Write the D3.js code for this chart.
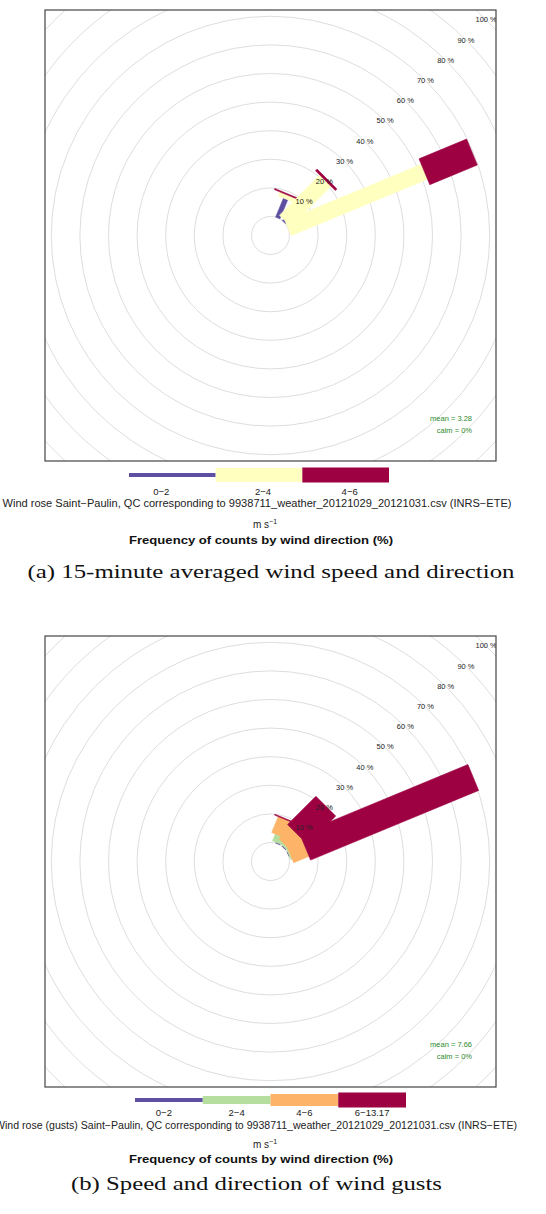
<!DOCTYPE html>
<html><head><meta charset="utf-8">
<script src="https://cdn.jsdelivr.net/npm/d3@7"></script>
<style>body{margin:0;background:#fff}svg{display:block}</style>
</head><body>
<svg id="chart" width="546" height="1214"></svg>
<script>
// ---------- DATA ----------
const directions = d3.range(16).map(i => i * 22.5); // degrees from north
const radialTicks = [0, 10, 20, 30, 40, 50, 60, 70, 80, 90, 100];
const tickLabels = ["10 %", "20 %", "30 %", "40 %", "50 %", "60 %", "70 %", "80 %", "90 %", "100 %"];

// (a) 15-minute averaged wind: frequency (%) per direction for each speed bin
const binsA = ["0\u22122", "2\u22124", "4\u22126"];
const a_0_2 = [0, 7.2, 0.6, 0, 0, 0, 0, 0, 0, 0, 0, 0, 0, 0, 0, 0];
const a_2_4 = [0, 1.5, 19.9, 51.6, 0, 0, 0, 0, 0, 0, 0, 0, 0, 0, 0, 0];
const a_4_6 = [0, 0.4, 0.8, 18.0, 0, 0, 0, 0, 0, 0, 0, 0, 0, 0, 0, 0];
const meanA = "mean = 3.28";
const calmA = "calm = 0%";

// (b) gusts
const binsB = ["0\u22122", "2\u22124", "4\u22126", "6\u221213.17"];
const b_0_2 = [0, 0.3, 0.3, 0.2, 0, 0, 0, 0, 0, 0, 0, 0, 0, 0, 0, 0];
const b_2_4 = [0, 2.6, 0.8, 0.5, 0, 0, 0, 0, 0, 0, 0, 0, 0, 0, 0, 0];
const b_4_6 = [0, 6.0, 5.6, 5.8, 0, 0, 0, 0, 0, 0, 0, 0, 0, 0, 0, 0];
const b_6_13 = [0, 0.3, 14.0, 63.6, 0, 0, 0, 0, 0, 0, 0, 0, 0, 0, 0, 0];
const meanB = "mean = 7.66";
const calmB = "calm = 0%";

const subtitleA = "Wind rose Saint\u2212Paulin, QC corresponding to 9938711_weather_20121029_20121031.csv (INRS\u2212ETE)";
const subtitleB = "Wind rose (gusts) Saint\u2212Paulin, QC corresponding to 9938711_weather_20121029_20121031.csv (INRS\u2212ETE)";
const captionA = "(a) 15-minute averaged wind speed and direction";
const captionB = "(b) Speed and direction of wind gusts";
const axisTitle = "Frequency of counts by wind direction (%)";

// ---------- STYLE ----------
const colorsA = ["#5E4FA2", "#FFFFBF", "#9E0142"];
const colorsB = ["#5E4FA2", "#B5DE9F", "#FDB468", "#9E0142"];
const halfWA = [2.3, 8, 14];
const halfWB = [2.3, 6, 10, 14];
const legHA = [4, 14, 15];
const legHB = [4, 8, 12, 15];

const svg = d3.select("#chart");
const sans = "'Liberation Sans', Arial, sans-serif";
const serif = "'Liberation Serif', 'DejaVu Serif', serif";

function drawPanel(cfg) {
  const g = svg.append("g");
  const box = cfg.box;
  const cx = box.x + box.w / 2, cy = box.y + box.h / 2;
  const r = d3.scaleLinear().domain([0, 100]).range([19, 305]);
  const clipId = "clip" + cfg.id;
  g.append("clipPath").attr("id", clipId).append("rect")
    .attr("x", box.x).attr("y", box.y).attr("width", box.w).attr("height", box.h);
  const inner = g.append("g").attr("clip-path", `url(#${clipId})`);

  inner.selectAll("circle.grid").data(radialTicks).join("circle")
    .attr("cx", cx).attr("cy", cy).attr("r", d => r(d))
    .attr("fill", "none").attr("stroke", "#dedede").attr("stroke-width", 1);

  // stacked paddles
  const series = cfg.series;
  directions.forEach((dir, i) => {
    let cum = 0;
    const th = dir * Math.PI / 180;
    const s = Math.sin(th), c = Math.cos(th);
    series.forEach((vals, k) => {
      const v = vals[i];
      if (v <= 0) return;
      const r1 = r(cum), r2 = r(cum + v);
      cum += v;
      const w = cfg.halfW[k];
      const pts = [
        [cx + r1 * s - w * c, cy - r1 * c - w * s],
        [cx + r2 * s - w * c, cy - r2 * c - w * s],
        [cx + r2 * s + w * c, cy - r2 * c + w * s],
        [cx + r1 * s + w * c, cy - r1 * c + w * s]
      ];
      inner.append("path").attr("d", d3.line()(pts) + "Z")
        .attr("fill", cfg.colors[k])
        .attr("stroke", cfg.colors[k]).attr("stroke-width", 0.6);
    });
  });

  // radial labels at 45 degrees
  const a45 = Math.PI / 4;
  inner.selectAll("text.tick").data(radialTicks.slice(1)).join("text")
    .attr("x", d => cx + r(d) * Math.sin(a45))
    .attr("y", d => cy - r(d) * Math.cos(a45) + 2.5)
    .attr("text-anchor", "middle")
    .attr("font-family", sans).attr("font-size", 7.5).attr("fill", "#222")
    .text((d, i) => tickLabels[i]);

  // mean / calm
  g.append("text").attr("x", box.x + box.w - 24).attr("y", box.y + box.h - 40)
    .attr("text-anchor", "end").attr("font-family", sans).attr("font-size", 7.5)
    .attr("fill", "#2e8b2e").text(cfg.mean);
  g.append("text").attr("x", box.x + box.w - 24).attr("y", box.y + box.h - 28)
    .attr("text-anchor", "end").attr("font-family", sans).attr("font-size", 7.5)
    .attr("fill", "#2e8b2e").text(cfg.calm);

  g.append("rect").attr("x", box.x).attr("y", box.y).attr("width", box.w).attr("height", box.h)
    .attr("fill", "none").attr("stroke", "#444").attr("stroke-width", 1.2);

  // legend
  const L = cfg.legend;
  const lx = d3.scaleBand().domain(cfg.bins).range([L.x0, L.x1]);
  g.selectAll("rect.leg").data(cfg.bins).join("rect")
    .attr("x", d => lx(d)).attr("width", lx.bandwidth())
    .attr("y", (d, k) => L.yc - cfg.legH[k] / 2).attr("height", (d, k) => cfg.legH[k])
    .attr("fill", (d, k) => cfg.colors[k]);
  g.selectAll("text.leg").data(cfg.bins).join("text")
    .attr("x", (d, k) => lx(d) + lx.bandwidth() / 2 + L.dx[k]).attr("y", L.labelY)
    .attr("text-anchor", "middle").attr("font-family", sans).attr("font-size", 9.5)
    .attr("fill", "#222").text(d => d);

  g.append("text").attr("x", cfg.sub.x).attr("y", cfg.sub.y).attr("text-anchor", "middle")
    .attr("font-family", sans).attr("font-size", 10).attr("fill", "#222")
    .attr("textLength", cfg.sub.len).attr("lengthAdjust", "spacingAndGlyphs").text(cfg.subtitle);
  const u = g.append("text").attr("x", 265).attr("y", cfg.unitY).attr("text-anchor", "middle")
    .attr("font-family", sans).attr("font-size", 10).attr("fill", "#222");
  u.append("tspan").text("m s");
  u.append("tspan").attr("dy", -4).attr("font-size", 7).text("\u22121");
  g.append("text").attr("x", 261).attr("y", cfg.titleY).attr("text-anchor", "middle")
    .attr("font-family", sans).attr("font-size", 11.5).attr("font-weight", "bold").attr("fill", "#111")
    .attr("textLength", 264).attr("lengthAdjust", "spacingAndGlyphs").text(axisTitle);
  g.append("text").attr("x", cfg.cap.x).attr("y", cfg.cap.y).attr("text-anchor", "middle")
    .attr("font-family", serif).attr("font-size", 18).attr("fill", "#111")
    .attr("textLength", cfg.cap.len).attr("lengthAdjust", "spacingAndGlyphs").text(cfg.caption);
}

drawPanel({
  id: "A", box: {x: 45, y: 10, w: 451, h: 451},
  series: [a_0_2, a_2_4, a_4_6], bins: binsA, colors: colorsA, halfW: halfWA, legH: legHA,
  mean: meanA, calm: calmA,
  legend: {x0: 129, x1: 389, yc: 475, labelY: 495, dx: [-11, 4, 4]},
  subtitle: subtitleA, sub: {x: 257, y: 507, len: 509},
  unitY: 528, titleY: 544, caption: captionA, cap: {x: 271, y: 578, len: 487}
});
drawPanel({
  id: "B", box: {x: 45, y: 636, w: 451, h: 451},
  series: [b_0_2, b_2_4, b_4_6, b_6_13], bins: binsB, colors: colorsB, halfW: halfWB, legH: legHB,
  mean: meanB, calm: calmB,
  legend: {x0: 135, x1: 406, yc: 1100, labelY: 1116, dx: [-5, 0, 0, 0]},
  subtitle: subtitleB, sub: {x: 256, y: 1129, len: 522},
  unitY: 1148, titleY: 1163, caption: captionB, cap: {x: 256.5, y: 1190, len: 371}
});
</script>
</body></html>
